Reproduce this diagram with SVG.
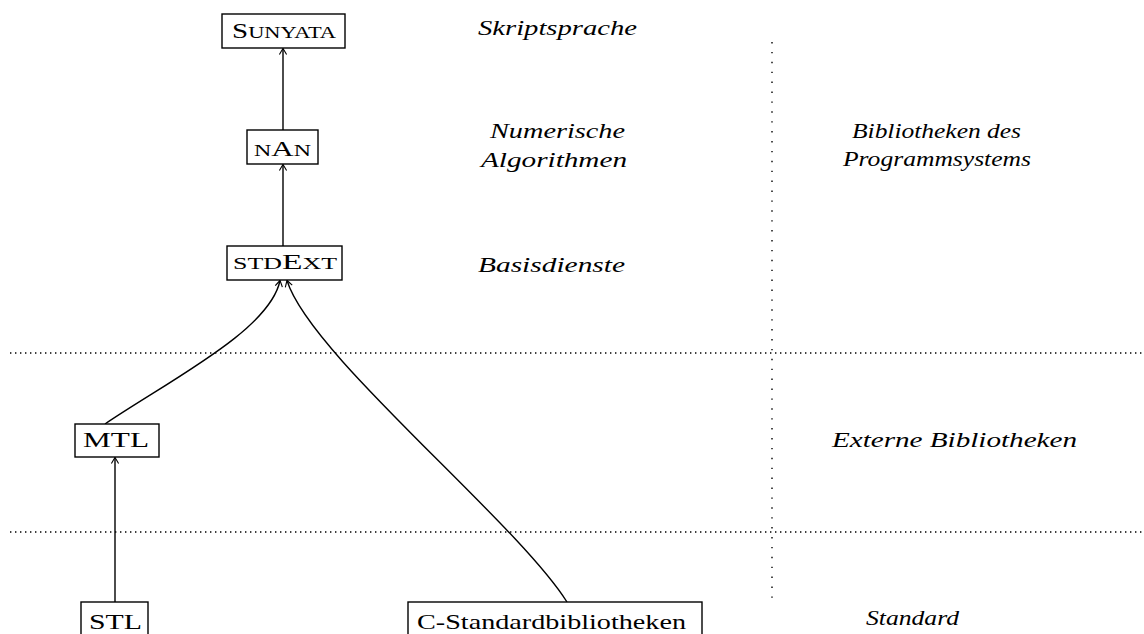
<svg xmlns="http://www.w3.org/2000/svg" width="1144" height="634" viewBox="0 0 1144 634">
<defs>
<style>
.box{fill:#fff;stroke:#000;stroke-width:1.4}
.lbl{font-family:"Liberation Serif","DejaVu Serif",serif;font-size:22px;fill:#000}
.sc{font-size:17px}
.it{font-family:"Liberation Serif","DejaVu Serif",serif;font-style:italic;font-size:20px;fill:#000}
.edge{fill:none;stroke:#000;stroke-width:1.4}
.dot{stroke:#000;stroke-width:1.4;fill:none}
</style>
<marker id="ah" markerUnits="userSpaceOnUse" markerWidth="14" markerHeight="14" refX="0" refY="0" viewBox="-8 -7 10 14" orient="auto">
<path d="M-6,-3.6 Q-1.5,-1 0,0 Q-1.5,1 -6,3.6" fill="none" stroke="#000" stroke-width="1.1"/>
</marker>
</defs>
<g id="separators">
<line class="dot" x1="10" y1="353" x2="1142" y2="353" stroke-dasharray="1.4 3.6"/>
<line class="dot" x1="10" y1="532" x2="1142" y2="532" stroke-dasharray="1.4 3.6"/>
<line class="dot" x1="772" y1="42" x2="772" y2="606" stroke-dasharray="1.4 8.5"/>
</g>
<g id="connectors">
<line class="edge" x1="283" y1="130" x2="283" y2="48.5" marker-end="url(#ah)"/>
<line class="edge" x1="283" y1="246" x2="283" y2="164.5" marker-end="url(#ah)"/>
<line class="edge" x1="115" y1="602" x2="115" y2="457.5" marker-end="url(#ah)"/>
<path class="edge" d="M105,424 C170,380 270,330 280,280.5" marker-end="url(#ah)"/>
<path class="edge" d="M567,602 C515,520 310,355 287,280.5" marker-end="url(#ah)"/>
</g>
<g id="sunyata">
<rect class="box" x="222" y="14" width="123" height="34"/>
<text class="lbl" x="232" y="38" textLength="104" lengthAdjust="spacingAndGlyphs">S<tspan class="sc">UNYATA</tspan></text>
</g>
<g id="nan">
<rect class="box" x="247" y="130" width="71" height="34"/>
<text class="lbl" x="254" y="156" textLength="57" lengthAdjust="spacingAndGlyphs"><tspan class="sc">N</tspan>A<tspan class="sc">N</tspan></text>
</g>
<g id="stdext">
<rect class="box" x="227" y="246" width="115" height="34"/>
<text class="lbl" x="233" y="269" textLength="104" lengthAdjust="spacingAndGlyphs"><tspan class="sc">STD</tspan>E<tspan class="sc">XT</tspan></text>
</g>
<g id="mtl">
<rect class="box" x="75" y="424" width="84" height="33"/>
<text class="lbl" x="83" y="447" textLength="66" lengthAdjust="spacingAndGlyphs">MTL</text>
</g>
<g id="stl">
<rect class="box" x="81" y="602" width="67" height="40"/>
<text class="lbl" x="89" y="629" textLength="53" lengthAdjust="spacingAndGlyphs">STL</text>
</g>
<g id="cstd">
<rect class="box" x="408" y="602" width="294" height="40"/>
<text class="lbl" x="417" y="629" textLength="269" lengthAdjust="spacingAndGlyphs">C-Standardbibliotheken</text>
</g>
<g id="labels">
<text class="it" x="478" y="35" textLength="159" lengthAdjust="spacingAndGlyphs">Skriptsprache</text>
<text class="it" x="490" y="138" textLength="135" lengthAdjust="spacingAndGlyphs">Numerische</text>
<text class="it" x="481" y="167" textLength="146" lengthAdjust="spacingAndGlyphs">Algorithmen</text>
<text class="it" x="478" y="272" textLength="147" lengthAdjust="spacingAndGlyphs">Basisdienste</text>
<text class="it" x="852" y="138" textLength="169" lengthAdjust="spacingAndGlyphs">Bibliotheken des</text>
<text class="it" x="843" y="166" textLength="188" lengthAdjust="spacingAndGlyphs">Programmsystems</text>
<text class="it" x="832" y="447" textLength="245" lengthAdjust="spacingAndGlyphs">Externe Bibliotheken</text>
<text class="it" x="866" y="625" textLength="93" lengthAdjust="spacingAndGlyphs">Standard</text>
</g>
</svg>
